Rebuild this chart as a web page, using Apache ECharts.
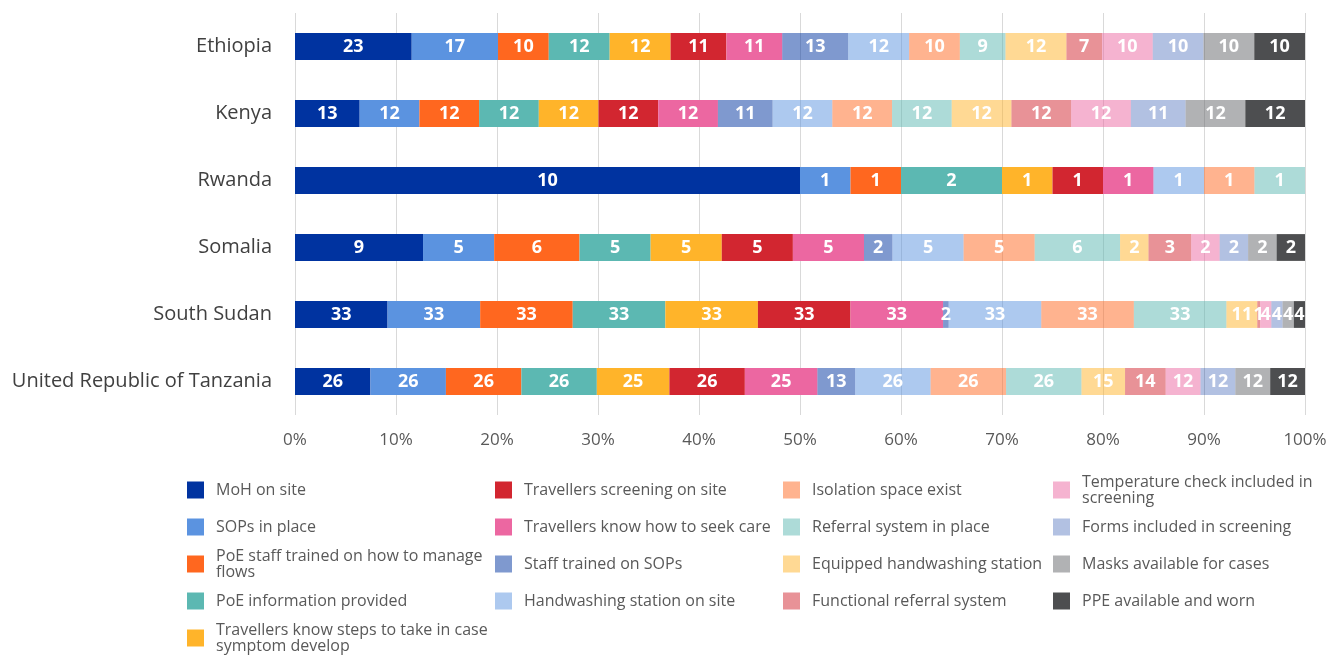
<!DOCTYPE html>
<html>
<head>
<meta charset="utf-8">
<script src="https://cdn.jsdelivr.net/npm/echarts@6/dist/echarts.min.js"></script>
<style>
  html, body { margin: 0; padding: 0; background: #fff; }
  #chart { width: 1339px; height: 658px; }
</style>
</head>
<body>
<div id="chart"></div>
<script>
// countries, top to bottom
var countries = ['Ethiopia', 'Kenya', 'Rwanda', 'Somalia', 'South Sudan', 'United Republic of Tanzania'];

var seriesNames = [
  'MoH on site', 'SOPs in place', 'PoE staff trained on how to manage flows',
  'PoE information provided', 'Travellers know steps to take in case symptom develop',
  'Travellers screening on site', 'Travellers know how to seek care', 'Staff trained on SOPs',
  'Handwashing station on site', 'Isolation space exist', 'Referral system in place',
  'Equipped handwashing station', 'Functional referral system',
  'Temperature check included in screening', 'Forms included in screening',
  'Masks available for cases', 'PPE available and worn'
];

// counts per country (Ethiopia, Kenya, Rwanda, Somalia, South Sudan, Tanzania)
var mohOnSite     = [23, 13, 10, 9, 33, 26];
var sopsInPlace   = [17, 12, 1, 5, 33, 26];
var poeStaff      = [10, 12, 1, 6, 33, 26];
var poeInfo       = [12, 12, 2, 5, 33, 26];
var stepsKnown    = [12, 12, 1, 5, 33, 25];
var screening     = [11, 12, 1, 5, 33, 26];
var seekCare      = [11, 12, 1, 5, 33, 25];
var staffSops     = [13, 11, 0, 2, 2, 13];
var handwashSite  = [12, 12, 1, 5, 33, 26];
var isolation     = [10, 12, 1, 5, 33, 26];
var referral      = [9, 12, 1, 6, 33, 26];
var handwashEquip = [12, 12, 0, 2, 11, 15];
var funcReferral  = [7, 12, 0, 3, 1, 14];
var tempCheck     = [10, 12, 0, 2, 4, 12];
var forms         = [10, 11, 0, 2, 4, 12];
var masks         = [10, 12, 0, 2, 4, 12];
var ppe           = [10, 12, 0, 2, 4, 12];

var allValues = [mohOnSite, sopsInPlace, poeStaff, poeInfo, stepsKnown, screening, seekCare,
  staffSops, handwashSite, isolation, referral, handwashEquip, funcReferral,
  tempCheck, forms, masks, ppe];

var xTicks = [0, 10, 20, 30, 40, 50, 60, 70, 80, 90, 100];

var colors = [
  '#0033A0', '#5B93E0', '#FF671F', '#5CB8B2', '#FFB42A', '#D22630', '#EC67A1',
  'rgba(0,51,160,0.5)', 'rgba(91,147,224,0.5)', 'rgba(255,103,31,0.5)',
  'rgba(92,184,178,0.5)', 'rgba(255,180,42,0.5)', 'rgba(210,38,48,0.5)',
  'rgba(236,103,161,0.5)', 'rgba(0,51,160,0.3)', 'rgba(99,101,105,0.5)', '#4D4E50'
];

// wrapped legend text
var legendText = {
  'PoE staff trained on how to manage flows': 'PoE staff trained on how to manage\nflows',
  'Travellers know steps to take in case symptom develop': 'Travellers know steps to take in case\nsymptom develop',
  'Temperature check included in screening': 'Temperature check included in\nscreening'
};

var totals = countries.map(function (c, i) {
  var s = 0;
  allValues.forEach(function (arr) { s += arr[i]; });
  return s;
});

var font = 'Open Sans';

var series = seriesNames.map(function (name, k) {
  return {
    name: name,
    type: 'bar',
    stack: 'total',
    barWidth: '40%',
    itemStyle: { color: colors[k] },
    label: {
      show: true,
      position: 'inside',
      color: '#fff',
      fontFamily: font,
      fontWeight: 'bold',
      fontSize: 18,
      formatter: function (p) { return p.data.raw ? String(p.data.raw) : ''; }
    },
    emphasis: { disabled: true },
    data: allValues[k].map(function (v, i) {
      return { value: v / totals[i] * 100, raw: v };
    })
  };
});

// legend: 4 columns, column-major
var colX = [187, 495, 783, 1053];
var rowY = [490, 527, 564, 601, 638];
var colSizes = [5, 4, 4, 4];
var legends = [];
var idx = 0;
colSizes.forEach(function (n, c) {
  for (var r = 0; r < n; r++) {
    var name = seriesNames[idx++];
    var lines = legendText[name] ? 2 : 1;
    var h = Math.max(17, lines * 16);
    legends.push({
      data: [name],
      orient: 'vertical',
      left: colX[c],
      top: rowY[r] - h / 2,
      padding: 0,
      itemWidth: 17,
      itemHeight: 17,
      icon: 'rect',
      selectedMode: false,
      formatter: function (nm) { return legendText[nm] || nm; },
      textStyle: {
        fontFamily: font,
        fontSize: 16,
        color: '#595959',
        lineHeight: 16,
        padding: [0, 0, 0, 7]
      }
    });
  }
});

var chart = echarts.init(document.getElementById('chart'));
chart.setOption({
  animation: false,
  color: colors,
  grid: { left: 295, right: 34, top: 13, height: 402, containLabel: false },
  xAxis: {
    type: 'value',
    min: xTicks[0],
    max: xTicks[xTicks.length - 1],
    interval: 10,
    axisLine: { show: false },
    axisTick: { show: false },
    axisLabel: {
      formatter: '{value}%',
      fontFamily: font,
      fontSize: 17,
      color: '#595959',
      margin: 17
    },
    splitLine: { lineStyle: { color: '#D9D9D9', width: 1 } }
  },
  yAxis: {
    type: 'category',
    data: countries,
    inverse: true,
    axisLine: { show: false },
    axisTick: { show: false },
    axisLabel: {
      fontFamily: font,
      fontSize: 20,
      color: '#404040',
      margin: 23
    }
  },
  legend: legends,
  series: series
});
</script>
</body>
</html>
